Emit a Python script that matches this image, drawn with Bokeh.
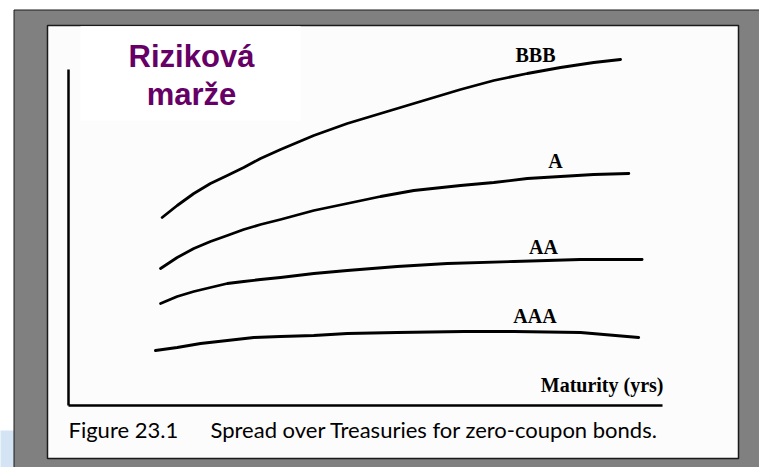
from bokeh.plotting import figure
from bokeh.models import Range1d, Label
from bokeh.embed import file_html
from bokeh.resources import INLINE

# ---- data (maturity in years, spread in %) ----
bbb_x = [4.73, 5.49, 6.33, 7.17, 8.02, 8.85, 9.70, 10.71, 12.39, 14.08, 15.76,
         17.44, 19.80, 21.48, 23.17, 24.85, 26.53, 27.88]
bbb_y = [1.88, 2.00, 2.12, 2.22, 2.30, 2.38, 2.47, 2.56, 2.70, 2.82, 2.92,
         3.02, 3.16, 3.25, 3.32, 3.38, 3.43, 3.46]
a_x = [4.65, 5.49, 6.33, 7.17, 8.02, 8.85, 9.70, 10.71, 12.39, 14.08, 15.76,
       17.44, 19.80, 21.48, 23.17, 24.85, 26.53, 28.30]
a_y = [1.37, 1.48, 1.57, 1.64, 1.70, 1.76, 1.81, 1.86, 1.95, 2.02, 2.09,
       2.15, 2.20, 2.23, 2.27, 2.29, 2.31, 2.32]
aa_x = [4.65, 5.49, 6.33, 7.17, 8.02, 8.85, 9.70, 10.71, 12.39, 14.08, 16.60,
        19.13, 22.49, 25.86, 28.97]
aa_y = [1.02, 1.09, 1.14, 1.18, 1.22, 1.24, 1.26, 1.28, 1.32, 1.35, 1.39,
        1.42, 1.44, 1.46, 1.46]
aaa_x = [4.39, 5.49, 6.67, 8.02, 9.36, 10.71, 12.39, 14.08, 16.60, 19.96,
         22.49, 25.86, 28.80]
aaa_y = [0.55, 0.58, 0.62, 0.65, 0.68, 0.69, 0.70, 0.72, 0.73, 0.74,
         0.74, 0.73, 0.68]

ratings = ["BBB", "A", "AA", "AAA"]
x_axis_label = "Maturity (yrs)"
title_lines = ["Riziková", "marže"]
caption_num = "Figure 23.1"
caption_text = "Spread over Treasuries for zero-coupon bonds."

# ---- layout helpers: page pixel -> data ----
PX0, PXS = 68.0, 19.8    # x=0 at page px 68, 19.8 px per year
PY0, PYS = 405.0, 100.0  # y=0 at page py 405, 100 px per %


def X(px):
    return (px - PX0) / PXS


def Y(py):
    return (PY0 - py) / PYS


def BY(py, fs):
    # baseline correction for text rendering
    return Y(py - 0.38 * fs)


W, H = 759, 467
p = figure(width=W, height=H, output_backend="svg", toolbar_location=None,
           x_range=Range1d(X(0), X(W)), y_range=Range1d(Y(H), Y(0)),
           x_axis_type=None, y_axis_type=None, min_border=0,
           outline_line_color=None, background_fill_color="white",
           border_fill_color="white")
p.xgrid.visible = False
p.ygrid.visible = False

# frame decorations
p.quad(left=[X(-5)], right=[X(13.5)], top=[Y(430)], bottom=[Y(480)],
       fill_color="#d4e4f4", line_color=None)
p.quad(left=[X(13.5)], right=[X(800)], top=[Y(9.5)], bottom=[Y(500)],
       fill_color="#808080", line_color="#1a1a1a", line_width=1)
p.quad(left=[X(47)], right=[X(738)], top=[Y(25)], bottom=[Y(458)],
       fill_color="#fcfcfc", line_color="#1a1a1a", line_width=1.5)
p.quad(left=[X(80)], right=[X(300)], top=[Y(25.8)], bottom=[Y(120)],
       fill_color="#ffffff", line_color=None)

# axes
p.segment(x0=[0, 0], y0=[0, 0], x1=[0, X(662)], y1=[Y(69), 0],
          line_color="black", line_width=2.5)

# curves
for xs, ys in [(bbb_x, bbb_y), (a_x, a_y), (aa_x, aa_y), (aaa_x, aaa_y)]:
    p.line(xs, ys, line_color="black", line_width=2.8, line_join="round",
           line_cap="round")

# rating labels
lab_x = [X(535), X(555), X(543), X(534.5)]
lab_y = [BY(62, 20), BY(168, 20), BY(254, 20), BY(323, 20)]
for t, lx, ly in zip(ratings, lab_x, lab_y):
    p.add_layout(Label(x=lx, y=ly, text=t, text_align="center",
                       text_baseline="alphabetic", text_font="Liberation Serif",
                       text_font_style="bold", text_font_size="20px",
                       text_color="black"))

p.add_layout(Label(x=X(663), y=BY(392, 20), text=x_axis_label, text_align="right",
                   text_baseline="alphabetic", text_font="Liberation Serif",
                   text_font_style="bold", text_font_size="20px",
                   text_color="black"))

# title
for t, by in zip(title_lines, [68, 106]):
    p.add_layout(Label(x=X(191), y=BY(by, 31), text=t, text_align="center",
                       text_baseline="alphabetic", text_font="Liberation Sans",
                       text_font_style="bold", text_font_size="31px",
                       text_color="#660066"))

# caption
p.add_layout(Label(x=X(68), y=BY(437, 20), text=caption_num, text_align="left",
                   text_baseline="alphabetic", text_font="Lato",
                   text_font_size="22px", text_color="black"))
p.add_layout(Label(x=X(210), y=BY(437, 20), text=caption_text, text_align="left",
                   text_baseline="alphabetic", text_font="Lato",
                   text_font_size="22px", text_color="black"))

open("out.html", "w").write(file_html(p, INLINE))
